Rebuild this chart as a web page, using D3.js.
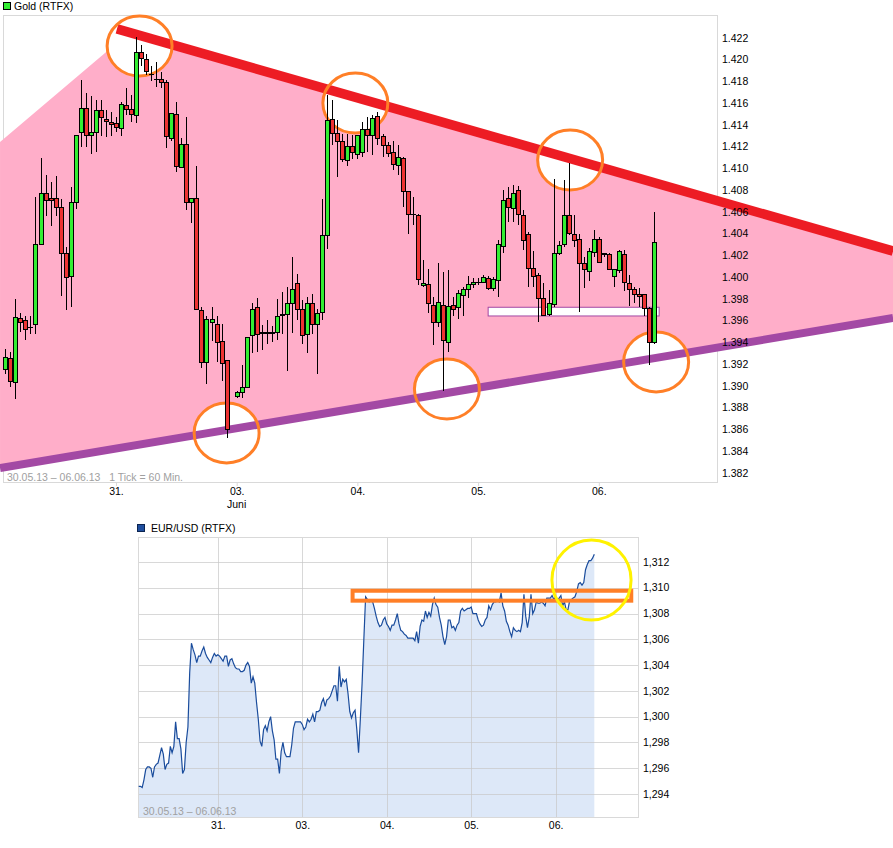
<!DOCTYPE html>
<html><head><meta charset="utf-8">
<script src="https://cdn.jsdelivr.net/npm/d3@7"></script>
<style>
body{margin:0;background:#fff;}
svg{display:block;font-family:"Liberation Sans",Arial,sans-serif;}
</style>
</head><body>
<svg id="c" width="893" height="848"></svg>
<script>
// ---------- DATA ----------
const dayHours = [22, 46, 70, 94, 118];
const dayLabels = ["31.", "03.", "04.", "05.", "06."];
const monthLabel = "Juni";
const goldTicks = [1382,1384,1386,1388,1390,1392,1394,1396,1398,1400,1402,1404,1406,1408,1410,1412,1414,1416,1418,1420,1422];
const eurTicks = [1.294,1.296,1.298,1.300,1.302,1.304,1.306,1.308,1.310,1.312];

// hourly gold candles (index = hour from start; index 45 = no trade)
const goldOpen = [1391.5,1392.5,1390.3,1396.2,1396.0,1395.4,1395.7,1403.0,1407.7,1407.2,1407.2,1406.4,1402.2,1400.1,1406.9,1413.3,1415.5,1413.0,1413.3,1415.3,1414.5,1414.2,1414.1,1413.7,1415.8,1415.4,1414.9,1420.7,1420.0,1418.6,1418.2,1418.2,1417.9,1412.8,1415.0,1410.1,1412.2,1406.9,1407.2,1396.9,1392.2,1395.8,1395.7,1394.1,1392.3,null,1389.0,1389.4,1389.9,1394.6,1397.2,1394.9,1394.9,1394.8,1394.9,1396.5,1396.6,1397.6,1399.4,1397.0,1394.7,1397.6,1395.7,1396.8,1403.8,1414.5,1413.2,1412.5,1410.7,1412.0,1411.3,1411.5,1413.6,1413.0,1414.8,1412.9,1412.1,1411.5,1410.3,1410.9,1407.9,1405.8,1405.7,1399.2,1399.3,1397.4,1395.8,1397.4,1394.0,1397.4,1397.2,1398.3,1398.9,1399.3,1399.5,1399.5,1399.9,1399.0,1399.7,1402.8,1407.2,1406.3,1408.0,1405.7,1403.9,1400.8,1400.2,1398.0,1396.6,1397.5,1402.2,1403.0,1405.7,1403.9,1403.5,1401.3,1400.5,1402.3,1403.5,1402.1,1402.1,1400.1,1400.6,1402.1,1399.4,1398.9,1398.4,1398.4,1397.1,1394.0];
const goldHigh = [1393.4,1393.1,1398.0,1396.7,1396.4,1396.4,1407.4,1411.0,1409.4,1408.8,1409.3,1407.2,1402.8,1408.3,1413.0,1418.1,1416.9,1416.7,1416.3,1416.3,1415.4,1415.2,1414.7,1416.1,1417.4,1416.8,1422.1,1421.4,1420.5,1419.4,1419.8,1418.9,1418.1,1415.1,1416.1,1412.8,1414.7,1407.2,1410.2,1397.3,1396.4,1397.3,1396.4,1395.7,1392.4,null,1389.5,1391.9,1394.5,1397.6,1398.1,1395.6,1396.1,1395.5,1398.0,1398.6,1399.1,1401.9,1400.3,1397.9,1398.2,1398.5,1397.1,1407.2,1416.8,1416.3,1414.5,1413.2,1413.2,1413.1,1413.1,1414.3,1414.7,1414.9,1415.2,1413.2,1412.4,1412.5,1412.2,1411.1,1407.9,1407.4,1405.8,1401.6,1400.8,1398.2,1401.3,1400.5,1400.7,1398.2,1398.8,1399.1,1400.1,1399.9,1399.9,1400.2,1400.1,1400.0,1403.4,1408.0,1408.3,1408.5,1408.4,1406.2,1404.2,1402.4,1400.4,1399.5,1398.8,1409.0,1403.3,1408.9,1410.5,1405.7,1404.0,1401.9,1402.7,1404.3,1403.7,1402.2,1402.2,1400.7,1402.5,1402.5,1400.2,1399.1,1399.0,1398.5,1397.3,1406.0];
const goldLow = [1391.1,1389.9,1388.8,1395.0,1394.2,1394.8,1394.8,1403.0,1405.6,1404.7,1405.6,1398.3,1397.0,1397.3,1406.3,1412.0,1412.0,1411.3,1411.5,1413.0,1412.9,1413.0,1413.4,1413.0,1414.9,1414.3,1414.2,1419.4,1418.6,1418.0,1417.5,1417.4,1411.9,1412.5,1409.7,1410.0,1406.2,1405.0,1397.0,1391.7,1390.2,1394.1,1392.2,1390.5,1385.2,null,1388.9,1388.9,1389.8,1393.0,1393.1,1393.3,1393.9,1394.0,1394.2,1394.8,1391.4,1394.9,1396.1,1393.9,1393.0,1394.8,1391.1,1396.1,1402.6,1412.2,1409.2,1410.6,1410.2,1410.9,1410.9,1411.1,1411.5,1411.2,1412.2,1411.1,1411.1,1409.9,1409.4,1406.5,1404.0,1404.8,1399.3,1399.1,1396.7,1393.8,1395.4,1389.5,1393.1,1396.4,1396.2,1396.4,1398.1,1399.0,1399.3,1399.5,1398.8,1398.7,1398.2,1402.2,1405.1,1405.1,1404.8,1402.5,1399.1,1399.1,1395.9,1396.4,1396.4,1397.3,1402.0,1402.8,1403.9,1402.8,1396.8,1399.0,1399.7,1401.9,1401.3,1401.9,1400.7,1399.1,1400.4,1398.7,1397.4,1397.6,1397.3,1396.4,1391.9,1393.9];
const goldClose = [1392.6,1390.4,1396.3,1395.8,1395.2,1395.4,1403.0,1407.7,1407.1,1407.1,1406.4,1402.2,1400.0,1406.9,1413.0,1415.5,1413.0,1413.3,1415.3,1414.7,1414.3,1414.0,1413.8,1415.9,1415.4,1415.0,1420.7,1420.1,1418.9,1418.6,1418.2,1417.9,1412.9,1415.1,1410.2,1412.2,1406.9,1407.2,1397.0,1392.2,1396.1,1396.1,1394.0,1392.1,1386.0,null,1389.4,1389.9,1394.5,1397.0,1394.7,1394.8,1394.8,1394.9,1396.4,1396.6,1397.6,1398.9,1397.0,1394.6,1397.6,1395.7,1396.7,1403.8,1414.4,1413.2,1412.5,1410.8,1412.0,1411.5,1413.0,1413.6,1413.0,1414.6,1412.8,1412.1,1411.4,1410.4,1411.0,1407.9,1405.8,1405.8,1399.8,1399.4,1397.6,1395.8,1397.7,1394.2,1397.3,1397.0,1398.5,1398.9,1399.3,1399.5,1399.5,1400.0,1399.0,1399.8,1403.0,1407.1,1406.4,1407.7,1405.8,1403.4,1400.8,1400.1,1398.0,1396.5,1397.6,1402.2,1402.9,1405.7,1404.0,1403.4,1401.3,1400.7,1402.4,1403.5,1401.4,1402.2,1400.7,1400.7,1402.4,1399.5,1398.9,1398.4,1398.2,1397.1,1394.0,1403.2];

// EUR/USD, half-hourly, first value at hour -0.5
const eurStartHour = -0.5, eurStepHour = 0.5;
const eurRate = [1.2946,1.2946,1.2945,1.2951,1.2959,1.2961,1.2961,1.2960,1.2953,1.2961,1.2963,1.2964,1.2970,1.2976,1.2971,1.2959,1.2963,1.2964,1.2977,1.2972,1.2977,1.2996,1.2983,1.2983,1.2975,1.2956,1.2959,1.2980,1.2992,1.3034,1.3057,1.3052,1.3048,1.3042,1.3047,1.3047,1.3051,1.3054,1.3049,1.3046,1.3044,1.3042,1.3046,1.3049,1.3047,1.3048,1.3047,1.3045,1.3043,1.3047,1.3047,1.3039,1.3044,1.3045,1.3041,1.3038,1.3037,1.3037,1.3035,1.3035,1.3036,1.3040,1.3042,1.3039,1.3026,1.3031,1.3026,1.3011,1.2998,1.2981,1.2977,1.2990,1.2993,1.2989,1.2996,1.3000,1.2989,1.2982,1.2967,1.2967,1.2956,1.2973,1.2980,1.2972,1.2969,1.2969,1.2969,1.2978,1.2991,1.2996,1.2996,1.2996,1.2996,1.2994,1.2990,1.2992,1.2998,1.2996,1.2998,1.3002,1.2996,1.3004,1.3004,1.3005,1.3011,1.3014,1.3008,1.3013,1.3014,1.3016,1.3020,1.3024,1.3024,1.3012,1.3039,1.3023,1.3029,1.3027,1.3029,1.3018,1.3004,1.2999,1.3003,1.3005,1.2990,1.2972,1.2998,1.3026,1.3060,1.3093,1.3091,1.3089,1.3090,1.3089,1.3084,1.3078,1.3073,1.3070,1.3071,1.3075,1.3077,1.3072,1.3070,1.3067,1.3071,1.3071,1.3075,1.3080,1.3072,1.3067,1.3066,1.3064,1.3063,1.3061,1.3061,1.3061,1.3061,1.3059,1.3066,1.3057,1.3070,1.3075,1.3074,1.3082,1.3077,1.3081,1.3078,1.3087,1.3092,1.3087,1.3085,1.3077,1.3071,1.3062,1.3056,1.3062,1.3075,1.3075,1.3069,1.3070,1.3067,1.3071,1.3073,1.3082,1.3084,1.3082,1.3083,1.3084,1.3084,1.3085,1.3080,1.3080,1.3080,1.3075,1.3072,1.3070,1.3071,1.3075,1.3077,1.3086,1.3083,1.3087,1.3089,1.3089,1.3090,1.3089,1.3096,1.3086,1.3082,1.3074,1.3071,1.3066,1.3062,1.3069,1.3067,1.3066,1.3067,1.3066,1.3073,1.3095,1.3078,1.3069,1.3077,1.3095,1.3080,1.3083,1.3089,1.3088,1.3088,1.3089,1.3088,1.3086,1.3092,1.3092,1.3092,1.3094,1.3091,1.3093,1.3090,1.3092,1.3094,1.3086,1.3089,1.3083,1.3083,1.3090,1.3091,1.3092,1.3093,1.3097,1.3103,1.3104,1.3102,1.3104,1.3114,1.3118,1.3121,1.3121,1.3123,1.3126];

// annotations (hour, price)
const resistanceLine = [[22.2, 1422.83], [176.5, 1402.41]];
const supportLine = [[-1.05, 1382.46], [176.5, 1396.25]];
const zoneLeftEdge = [[-1.05, 1412.44], [22.4, 1421.63]];
const goldCircles = [[26.7,1421.26],[69.6,1416.02],[112.3,1410.78],[44.0,1385.68],[87.8,1389.72],[129.4,1392.21]];
const goldCircleRadius = [6.46, 2.76]; // hours, price
const goldBox = [[96.0, 1397.24], [130.0, 1396.44]];
const eurBox = [[60.3, 1.30977], [139.5, 1.30900]];
const eurCircle = [128.2, 1.3106];
const eurCircleRadius = [11.25, 0.0031];

// ---------- DRAW ----------
const svg = d3.select("#c");
const de = d3.formatLocale({decimal: ",", thousands: ".", grouping: [3], currency: ["", " €"]});
const fmtGold = de.format(",d");
const fmtEur = de.format(".3f");
const GRID = "#d9d9d9";
const TXT = "#000";

// ===== TOP CHART =====
const xT = d3.scaleLinear().domain([-0.46, 141.7]).range([3, 718]);
const yT = d3.scaleLinear().domain([1381.08, 1424.115]).range([483, 15]);

// legend
svg.append("rect").attr("x", 3.5).attr("y", 2.5).attr("width", 7).attr("height", 7)
  .attr("fill", "#33ee33").attr("stroke", "#000").attr("stroke-width", 1);
svg.append("text").attr("x", 14).attr("y", 10).attr("font-size", "10.5px").attr("fill", TXT).text("Gold (RTFX)");

// plot border
svg.append("rect").attr("x", 3.5).attr("y", 15.5).attr("width", 714).attr("height", 467)
  .attr("fill", "#fff").attr("stroke", GRID);

// watermark
svg.append("text").attr("x", 7).attr("y", 481).attr("font-size", "10.5px").attr("fill", "#a0a0a0")
  .text("30.05.13 \u2013 06.06.13\u00a0\u00a0\u00a01 Tick = 60 Min.");

const ann = svg.append("g");
const P = d => [xT(d[0]), yT(d[1])];
// pink zone
const zone = [zoneLeftEdge[0], zoneLeftEdge[1], resistanceLine[0], resistanceLine[1], supportLine[1], supportLine[0]];
ann.append("path").attr("d", d3.line()(zone.map(P))).attr("fill", "#ffaec9");
// white filled circles
const ell = goldCircles.map(c => ({cx: xT(c[0]), cy: yT(c[1]),
  rx: xT(c[0] + goldCircleRadius[0]) - xT(c[0]), ry: yT(c[1] - goldCircleRadius[1]) - yT(c[1])}));
ann.selectAll("ellipse.f").data(ell).join("ellipse").attr("class", "f")
  .attr("cx", d => d.cx).attr("cy", d => d.cy).attr("rx", d => d.rx).attr("ry", d => d.ry).attr("fill", "#fff");
// trend lines
ann.append("path").attr("d", d3.line()(resistanceLine.map(P))).attr("stroke", "#ed1c24").attr("stroke-width", 9.6).attr("fill", "none");
ann.append("path").attr("d", d3.line()(supportLine.map(P))).attr("stroke", "#a349a4").attr("stroke-width", 8).attr("fill", "none");
// white box
ann.append("rect").attr("x", xT(goldBox[0][0])).attr("y", yT(goldBox[0][1]))
  .attr("width", xT(goldBox[1][0]) - xT(goldBox[0][0])).attr("height", yT(goldBox[1][1]) - yT(goldBox[0][1]))
  .attr("fill", "#fff").attr("stroke", "#a349a4").attr("stroke-width", 1);
// circle outlines
ann.selectAll("ellipse.s").data(ell).join("ellipse").attr("class", "s")
  .attr("cx", d => d.cx).attr("cy", d => d.cy).attr("rx", d => d.rx).attr("ry", d => d.ry)
  .attr("fill", "none").attr("stroke", "#ff7f27").attr("stroke-width", 3);

// candles
const candles = goldOpen.map((o, i) => ({i, o, h: goldHigh[i], l: goldLow[i], c: goldClose[i]})).filter(d => d.o != null);
const cg = svg.append("g").attr("shape-rendering", "crispEdges");
cg.selectAll("line").data(candles).join("line")
  .attr("x1", d => Math.round(xT(d.i)) + 0.5).attr("x2", d => Math.round(xT(d.i)) + 0.5)
  .attr("y1", d => yT(d.h)).attr("y2", d => yT(d.l)).attr("stroke", "#000").attr("stroke-width", 1);
cg.selectAll("rect").data(candles).join("rect")
  .attr("x", d => Math.round(xT(d.i)) - 1.5)
  .attr("y", d => yT(Math.max(d.o, d.c)))
  .attr("width", 4)
  .attr("height", d => Math.max(0.01, Math.abs(yT(d.o) - yT(d.c))))
  .attr("fill", d => d.c >= d.o ? "#33ee33" : "#ee3333")
  .attr("stroke", "#000").attr("stroke-width", 1);

// y axis labels (right)
svg.append("g").selectAll("text").data(goldTicks).join("text")
  .attr("x", 722).attr("y", d => yT(d)).attr("dy", "0.35em")
  .attr("font-size", "10.5px").attr("fill", TXT).text(d => fmtGold(d));

// x axis
const axT = svg.append("g").attr("transform", "translate(0,483)")
  .call(d3.axisBottom(xT).tickValues(dayHours).tickSize(3).tickFormat((d, i) => dayLabels[i]));
axT.select(".domain").remove();
axT.selectAll("line").attr("stroke", GRID);
axT.selectAll("text").attr("font-size", "10.5px").attr("font-family", "Liberation Sans, Arial, sans-serif").attr("fill", TXT).attr("y", 5);
svg.append("text").attr("x", xT(dayHours[1])).attr("y", 508).attr("text-anchor", "middle")
  .attr("font-size", "10.5px").attr("fill", TXT).text(monthLabel);

// ===== BOTTOM CHART =====
const xB = d3.scaleLinear().domain([-0.69, 141.7]).range([138, 639]);
const yB = d3.scaleLinear().domain([1.29214, 1.31394]).range([818, 537]);

svg.append("rect").attr("x", 137.5).attr("y", 524.5).attr("width", 7).attr("height", 7)
  .attr("fill", "#1f4e9e").attr("stroke", "#0b2450");
svg.append("text").attr("x", 151).attr("y", 532).attr("font-size", "10.5px").attr("fill", TXT).text("EUR/USD (RTFX)");

const eur = eurRate.map((v, j) => ({h: eurStartHour + j * eurStepHour, v}));
svg.append("path").datum(eur)
  .attr("d", d3.area().x(d => xB(d.h)).y0(yB.range()[0]).y1(d => yB(d.v)))
  .attr("fill", "#dde8f8");

// grid
const gg = svg.append("g").attr("shape-rendering", "crispEdges");
gg.selectAll("line.h").data(eurTicks).join("line").attr("class", "h")
  .attr("x1", 138).attr("x2", 639).attr("y1", d => Math.round(yB(d)) + 0.5).attr("y2", d => Math.round(yB(d)) + 0.5)
  .attr("stroke", "#c8c8c8").attr("stroke-opacity", 0.7);
gg.selectAll("line.v").data(dayHours).join("line").attr("class", "v")
  .attr("y1", 537).attr("y2", 818).attr("x1", d => Math.round(xB(d)) + 0.5).attr("x2", d => Math.round(xB(d)) + 0.5)
  .attr("stroke", "#c8c8c8").attr("stroke-opacity", 0.7);
gg.append("rect").attr("x", 138.5).attr("y", 537.5).attr("width", 500).attr("height", 280)
  .attr("fill", "none").attr("stroke", GRID);

svg.append("path").datum(eur)
  .attr("d", d3.line().x(d => xB(d.h)).y(d => yB(d.v)))
  .attr("fill", "none").attr("stroke", "#1a4c9c").attr("stroke-width", 1.2);

svg.append("text").attr("x", 143).attr("y", 815).attr("font-size", "10.5px").attr("fill", "#a0a0a0")
  .text("30.05.13 \u2013 06.06.13");

// bottom annotations
svg.append("rect").attr("x", xB(eurBox[0][0])).attr("y", yB(eurBox[0][1]))
  .attr("width", xB(eurBox[1][0]) - xB(eurBox[0][0])).attr("height", yB(eurBox[1][1]) - yB(eurBox[0][1]))
  .attr("fill", "none").attr("stroke", "#ff7f27").attr("stroke-width", 4);
svg.append("ellipse").attr("cx", xB(eurCircle[0])).attr("cy", yB(eurCircle[1]))
  .attr("rx", xB(eurCircle[0] + eurCircleRadius[0]) - xB(eurCircle[0]))
  .attr("ry", yB(eurCircle[1] - eurCircleRadius[1]) - yB(eurCircle[1]))
  .attr("fill", "none").attr("stroke", "#fff200").attr("stroke-width", 3);

svg.append("g").selectAll("text").data(eurTicks).join("text")
  .attr("x", 643).attr("y", d => yB(d)).attr("dy", "0.35em")
  .attr("font-size", "10.5px").attr("fill", TXT).text(d => fmtEur(d));

const axB = svg.append("g").attr("transform", "translate(0,818)")
  .call(d3.axisBottom(xB).tickValues(dayHours).tickSize(0).tickFormat((d, i) => dayLabels[i]));
axB.select(".domain").remove();
axB.selectAll("text").attr("font-size", "10.5px").attr("font-family", "Liberation Sans, Arial, sans-serif").attr("fill", TXT).attr("y", 4);
</script>
</body></html>
